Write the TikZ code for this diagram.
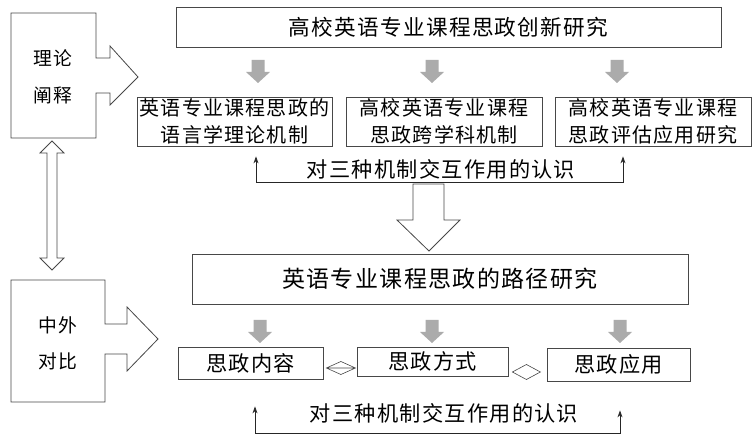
\documentclass[tikz,border=0pt]{standalone}
\usepackage{fontspec}
\newfontfamily\cjk[LetterSpace=6]{Noto Sans CJK SC}
\usetikzlibrary{arrows.meta,positioning}
\colorlet{lineColor}{black!72}
\colorlet{arrowGray}{black!33}
\tikzset{>={Stealth[length=7pt,width=5pt]},
  box/.style={draw=lineColor,line width=0.8pt,inner sep=0pt,align=center},
  bigfont/.style={font=\cjk\fontsize{21.6}{27}\selectfont},
  midfont/.style={font=\cjk\fontsize{20}{27}\selectfont},
  lowfont/.style={font=\cjk\fontsize{21.2}{27}\selectfont},
  sidefont/.style={font=\cjk\fontsize{18.8}{27}\selectfont},
  outline/.style={draw=lineColor,line width=0.8pt,line join=miter}}

\begin{document}
\begin{tikzpicture}[x=1pt,y=-1pt]
  \useasboundingbox (0,0) rectangle (753,435);

  % left block arrows
  \draw [outline] (11,13) -- (96,13) -- (96,58) -- (110,58) -- (110,46)
    -- (138,77) -- (110,105) -- (110,93) -- (96,93) -- (96,138)
    -- (11,138) -- cycle;
  \draw [outline] (11,280) -- (105,280) -- (105,324) -- (127,324) -- (127,307)
    -- (158,339) -- (127,371) -- (127,354) -- (105,354) -- (105,402)
    -- (11,402) -- cycle;
  \node [sidefont] (theoryA) at (53,58) {理论};
  \node [sidefont] (theoryB) at (53,95) {阐释};
  \node [sidefont] (compareA) at (58,325) {中外};
  \node [sidefont] (compareB) at (58,361) {对比};

  % double arrow between the two
  \draw [outline] (47,153) -- (47,258) -- (40,258) -- (52,270) -- (64,258)
    -- (57,258) -- (57,153) -- (64,153) -- (52,141) -- (40,153) -- cycle;

  % boxes
  \node [box,bigfont,minimum width=545,minimum height=40] (topic) at (448.5,27)
    {高校英语专业课程思政创新研究};
  \node [box,midfont,minimum width=195,minimum height=49] (mech1) at (234.5,121.5)
    {英语专业课程思政的\\语言学理论机制};
  \node [box,midfont,minimum width=196,minimum height=49] (mech2) at (444,121.5)
    {高校英语专业课程\\思政跨学科机制};
  \node [box,midfont,minimum width=196,minimum height=49] (mech3) at (653,121.5)
    {高校英语专业课程\\思政评估应用研究};
  \node [box,font=\cjk\fontsize{23}{27}\selectfont,minimum width=496,minimum height=50]
    (path) at (440,279) {英语专业课程思政的路径研究};
  \node [box,lowfont,minimum width=145,minimum height=32] (out1) at (250.5,363) {思政内容};
  \node [box,lowfont,minimum width=151,minimum height=29] (out2) at (432.5,361.5) {思政方式};
  \node [box,lowfont,minimum width=143,minimum height=33] (out3) at (618.5,364.5) {思政应用};

  % gray arrows
  \foreach \x/\y in {258/60,432/60,617/60,260/320,432/320,620/320}
    \fill [arrowGray] (\x-6.5,\y) -- (\x+6.5,\y) -- (\x+6.5,\y+12) -- (\x+12,\y+12)
      -- (\x,\y+23) -- (\x-12,\y+12) -- (\x-6.5,\y+12) -- cycle;

  % feedback loops
  \coordinate (fbA) at (256,182);
  \coordinate (fbB) at (623,182);
  \draw [<->,black!85,line width=0.8pt,shorten <=10pt,shorten >=10pt]
    (mech1.south -| fbA) -- (fbA) -- (fbB) -- (mech3.south -| fbB);
  \node [lowfont] (fbtextA) at (441,169) {对三种机制交互作用的认识};

  \coordinate (fbC) at (255,433);
  \coordinate (fbD) at (620,433);
  \draw [<->,black!85,line width=0.8pt,shorten <=27pt,shorten >=29pt]
    (out1.south -| fbC) -- (fbC) -- (fbD) -- (out3.south -| fbD);
  \node [lowfont] (fbtextB) at (444,413) {对三种机制交互作用的认识};

  % big hollow arrow
  \draw [outline] (413,184) -- (444,184) -- (444,220) -- (460,220) -- (429,251)
    -- (397,220) -- (413,220) -- cycle;

  % diamonds between outcome boxes
  \draw [outline,line width=0.6pt] (out1.east |- 0,368) ++(3,0) -- ++(14.5,-6.5)
    -- ++(14.5,6.5) -- ++(-14.5,6.5) -- cycle ++(0,0) -- ++(29,0);
  \draw [outline,line width=0.6pt] (out2.east |- 0,372) ++(4,0) -- ++(14,-7.5)
    -- ++(14,7.5) -- ++(-14,7.5) -- cycle;

\end{tikzpicture}
\end{document}
